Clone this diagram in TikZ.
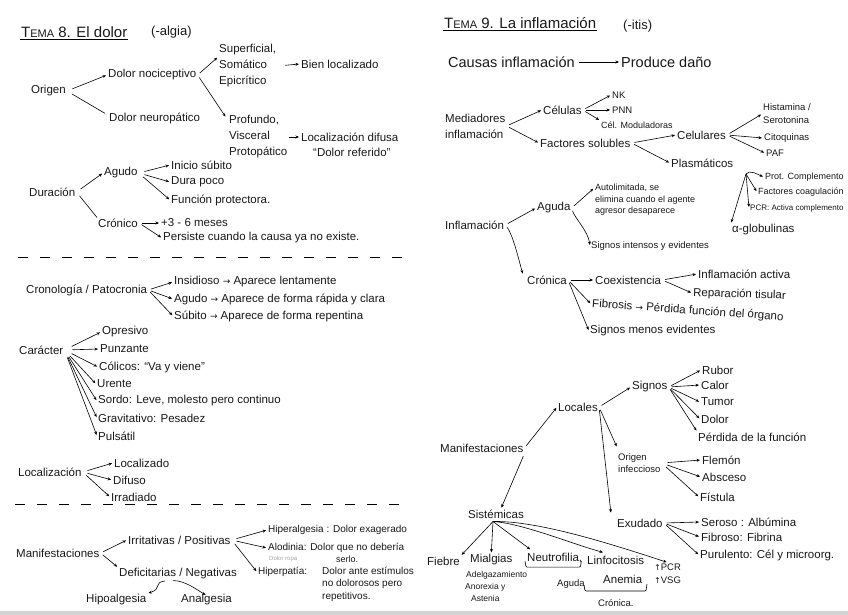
\documentclass[tikz,border=0pt]{standalone}
\usepackage{fontspec}
\setmainfont{Liberation Sans}
\newfontfamily\symf{DejaVu Sans}
\newcommand{\ra}{{\symf\small →}}
\usetikzlibrary{arrows.meta,calc}
\begin{document}
\begin{tikzpicture}[x=1pt,y=-1pt,
  txt/.style={anchor=west,inner sep=1pt,font=\fontsize{11.5}{16}\selectfont,align=left,text=black!90},
  sm/.style={txt,font=\fontsize{9.5}{12}\selectfont},
  xs/.style={txt,font=\fontsize{8}{10}\selectfont},
  big/.style={txt,font=\fontsize{15}{18}\selectfont},
  arr/.style={-{Stealth[length=3.5pt,width=3pt]},line width=0.6pt,shorten <=3pt,shorten >=1pt},
  ln/.style={line width=0.6pt,shorten <=3pt},
  divider/.style={dash pattern=on 10pt off 12pt,line width=0.8pt},
  brace/.style={line width=0.6pt,rounded corners=1pt}
]
\useasboundingbox (0,0) rectangle (848,615);
\fill[white] (0,0) rectangle (848,615);
\fill[gray!35] (0,611) rectangle (848,615);

% ================= TEMA 8 =================
\node[big] (t8) at (20,32) {T{\fontsize{11}{13}\selectfont EMA} 8. El dolor};
\draw[line width=0.7pt] ($(t8.south west)+(0,1)$) -- ($(t8.south east)+(0,1)$);
\node[txt,font=\fontsize{13}{15}\selectfont] (t8b) at (150,32) {(-algia)};

% Origen
\node[txt] (origen) at (30,91) {Origen};
\node[txt] (noci) at (107,75) {Dolor nociceptivo};
\node[txt] (neuro) at (108,118) {Dolor neuropático};
\draw[arr,shorten <=6pt] (origen.east) -- (noci.west);
\draw[ln,shorten <=6pt] (origen.east) -- ($(neuro.north west)+(-3,2)$);

\node[txt] (sup) at (218,66) {Superficial,\\Somático\\Epicrítico};
\node[txt] (prof) at (228,137) {Profundo,\\Visceral\\Protopático};
\draw[arr] (noci.east) -- ($(sup.north west)!0.3!(sup.south west)$);
\draw[arr] (noci.east) -- ($(prof.north west)+(-2,3)$);
\node[txt] (bien) at (300,64) {Bien localizado};
\draw[arr,shorten <=8pt] (sup.east) -- (bien.west);
\node[txt] (difusa) at (300,137) {Localización difusa};
\node[txt] (referido) at (312,152) {“Dolor referido”};
\draw[arr,shorten <=0pt] (prof.east) -- (difusa.west);

% Duracion
\node[txt] (dur) at (28,192) {Duración};
\node[txt] (agudo) at (103,173) {Agudo};
\node[txt] (cronico) at (97,223) {Crónico};
\draw[arr,shorten <=5pt] (dur.east) -- (agudo.west);
\draw[ln,shorten <=5pt] (dur.east) -- (cronico.north west);
\node[txt] (inicio) at (170,165) {Inicio súbito};
\node[txt] (dura) at (170,182) {Dura poco};
\node[txt] (funcion) at (170,200) {Función protectora.};
\foreach \c in {inicio,dura,funcion} \draw[arr,shorten <=6pt] (agudo.east) -- (\c.west);
\node[txt] (meses) at (160,223) {+3 - 6 meses};
\node[txt] (persiste) at (162,238) {Persiste cuando la causa ya no existe.};
\draw[arr] (cronico.east) -- (meses.west);
\draw[arr] (cronico.east) -- (persiste.west);

\draw[divider] (18,257) -- (405,257);

% Cronologia
\node[txt] (crono) at (25,290) {Cronología / Patocronia};
\node[txt] (insid) at (173,282) {Insidioso \ra{} Aparece lentamente};
\node[txt] (agudob) at (173,299) {Agudo \ra{} Aparece de forma rápida y clara};
\node[txt] (subito) at (173,316) {Súbito \ra{} Aparece de forma repentina};
\foreach \c in {insid,agudob,subito} \draw[arr] (crono.east) -- (\c.west);

% Caracter
\node[txt] (caracter) at (18,350) {Carácter};
\node[txt] (opresivo) at (101,332) {Opresivo};
\node[txt] (punzante) at (99,349) {Punzante};
\node[txt] (colicos) at (98,367) {Cólicos: “Va y viene”};
\node[txt] (urente) at (96,384) {Urente};
\node[txt] (sordo) at (97,401) {Sordo: Leve, molesto pero continuo};
\node[txt] (grav) at (97,418) {Gravitativo: Pesadez};
\node[txt] (puls) at (97,436) {Pulsátil};
\foreach \c in {opresivo,punzante,colicos,urente,sordo,grav,puls} \draw[arr,shorten <=8pt] (caracter.east) -- (\c.west);

% Localizacion
\node[txt] (local) at (17,472) {Localización};
\node[txt] (localizado) at (113,463) {Localizado};
\node[txt] (difuso) at (112,480) {Difuso};
\node[txt] (irradiado) at (110,497) {Irradiado};
\foreach \c in {localizado,difuso,irradiado} \draw[arr,shorten <=5pt] (local.east) -- (\c.west);

\draw[divider] (15,504) -- (405,504);

% Manifestaciones (dolor)
\node[txt] (manif) at (15,553) {Manifestaciones};
\node[txt] (irrit) at (127,540) {Irritativas / Positivas};
\node[txt] (defic) at (118,574) {Deficitarias / Negativas};
\draw[arr] (manif.east) -- (irrit.west);
\draw[arr] (manif.east) -- (defic.north west);
\node[txt,font=\fontsize{10}{12}\selectfont] (hiperalg) at (267,530) {Hiperalgesia : Dolor exagerado};
\node[txt,font=\fontsize{10}{12}\selectfont] (alod) at (267,548) {Alodinia: Dolor que no debería};
\node[txt,font=\fontsize{9}{10}\selectfont] (serlo) at (335,559) {serlo.};
\node[txt,text=gray!70,font=\fontsize{6}{7}\selectfont] (ropa) at (268,559) {Dolor ropa};
\node[txt,font=\fontsize{10}{12}\selectfont] (hiperp) at (257,572) {Hiperpatía:};
\node[txt,font=\fontsize{10}{12.5}\selectfont] (hiperpd) at (321,584) {Dolor ante estímulos\\no dolorosos pero\\repetitivos.};
\foreach \c in {hiperalg,alod,hiperp} \draw[arr,shorten <=5pt] (irrit.east) -- (\c.west);
\node[txt] (hipoalg) at (85,600) {Hipoalgesia};
\node[txt] (analg) at (180,600) {Analgesia};
\draw[arr] ($(defic.south)+(-10,0)$) .. controls +(-15,2) and +(15,-5) .. (hipoalg.north east);
\draw[arr] ($(defic.south)+(-8,0)$) .. controls +(15,0) and +(-10,-6) .. ($(analg.north)+(0,2)$);

% ================= TEMA 9 =================
\node[big] (t9) at (443,23) {T{\fontsize{11}{13}\selectfont EMA} 9. La inflamación};
\draw[line width=0.7pt] ($(t9.south west)+(0,1)$) -- ($(t9.south east)+(0,1)$);
\node[txt,font=\fontsize{13}{15}\selectfont] (t9b) at (622,26) {(-itis)};

\node[big,font=\fontsize{14.5}{17}\selectfont] (causas) at (447,62) {Causas inflamación};
\node[big,font=\fontsize{14.5}{17}\selectfont] (produce) at (620,62) {Produce daño};
\draw[arr] (causas.east) -- (produce.west);

% Mediadores
\node[txt] (medi) at (444,126) {Mediadores\\inflamación};
\node[txt] (celulas) at (542,110) {Células};
\node[txt] (factores) at (539,143) {Factores solubles};
\draw[arr] (medi.east) -- (celulas.west);
\draw[arr] (medi.east) -- (factores.west);
\node[sm] (nk) at (611,95) {NK};
\node[sm] (pnn) at (611,110) {PNN};
\node[sm,font=\fontsize{9}{11}\selectfont] (celmod) at (600,125) {Cél. Moduladoras};
\foreach \c in {nk,pnn} \draw[arr] (celulas.east) -- (\c.west);
\draw[arr] (celulas.east) -- (celmod.north west);
\node[txt] (celulares) at (676,135) {Celulares};
\node[txt] (plasma) at (670,163) {Plasmáticos};
\draw[arr] (factores.east) -- (celulares.west);
\draw[arr] (factores.east) -- (plasma.west);
\node[sm,font=\fontsize{9.5}{13}\selectfont] (hist) at (762,114) {Histamina /\\Serotonina};
\node[sm] (citoq) at (763,138) {Citoquinas};
\node[sm] (paf) at (765,153) {PAF};
\foreach \c in {hist,citoq,paf} \draw[arr] (celulares.east) -- (\c.west);
\coordinate (pv) at (746,174);
\node[sm,font=\fontsize{9}{11}\selectfont] (prot) at (764,177) {Prot. Complemento};
\node[sm,font=\fontsize{9}{11}\selectfont] (fcoag) at (757,192) {Factores coagulación};
\node[xs] (pcr) at (749,208) {PCR: Activa complemento};
\node[txt] (alfa) at (731,230) {α-globulinas};
\draw[arr,shorten <=0pt] (pv) .. controls +(3,-5) and +(-5,-2) .. (prot.west);
\draw[arr,shorten <=0pt] (pv) -- (fcoag.west);
\draw[arr,shorten <=0pt] (pv) -- (pcr.west);
\draw[arr,shorten <=0pt] (pv) -- (alfa.north west);

% Inflamacion
\node[txt] (infl) at (444,225) {Inflamación};
\node[txt] (aguda) at (536,208) {Aguda};
\node[txt] (cronica) at (526,280) {Crónica};
\draw[arr] (infl.east) -- (aguda.west);
\draw[arr] (infl.east) .. controls +(8,10) and +(-3,-10) .. ($(cronica.north west)+(-3,0)$);
\node[sm,font=\fontsize{9}{11.5}\selectfont] (autolim) at (594,200) {Autolimitada, se\\elimina cuando el agente\\agresor desaparece};
\node[sm] (signint) at (590,246) {Signos intensos y evidentes};
\draw[arr] (aguda.east) -- ($(autolim.north west)+(0,5)$);
\draw[arr] (aguda.east) .. controls +(3,10) and +(-2,-15) .. (signint.west);
\node[txt] (coex) at (594,280) {Coexistencia};
\node[txt,rotate=-4] (fibrosis) at (591,304) {Fibrosis \ra{} Pérdida función del órgano};
\node[txt] (signmen) at (589,331) {Signos menos evidentes};
\draw[arr] (cronica.east) -- (coex.west);
\draw[arr] (cronica.east) -- (fibrosis.west);
\draw[arr] (cronica.east) -- (signmen.west);
\node[txt] (inflact) at (697,274) {Inflamación activa};
\node[txt,rotate=-2] (repar) at (692,293) {Reparación tisular};
\draw[arr] (coex.east) -- (inflact.west);
\draw[arr] (coex.east) -- (repar.west);

% Manifestaciones (inflamacion)
\node[txt] (manifr) at (439,448) {Manifestaciones};
\node[txt] (locales) at (557,407) {Locales};
\node[txt] (sist) at (467,514) {Sistémicas};
\draw[arr] (manifr.east) -- (locales.west);
\draw[arr] (manifr.south east) -- ($(sist.north)+(5,0)$);
\node[txt] (signos) at (631,387) {Signos};
\node[sm] (origen2) at (617,463) {Origen\\infeccioso};
\node[txt] (exud) at (616,523) {Exudado};
\draw[arr] (locales.east) -- (signos.west);
\draw[arr] (locales.east) -- ($(origen2.north west)+(0,-5)$);
\draw[arr] (locales.east) -- ($(exud.north west)+(-5,-4)$);
\node[txt] (rubor) at (701,370) {Rubor};
\node[txt] (calor) at (700,385) {Calor};
\node[txt] (tumor) at (700,402) {Tumor};
\node[txt] (dolorb) at (700,419) {Dolor};
\node[txt] (perdida) at (697,437) {Pérdida de la función};
\foreach \c in {rubor,calor,tumor,dolorb} \draw[arr] (signos.east) -- (\c.west);
\draw[arr] (signos.east) -- (perdida.north west);
\node[txt] (flemon) at (701,460) {Flemón};
\node[txt] (absceso) at (701,477) {Absceso};
\node[txt] (fistula) at (699,497) {Fístula};
\foreach \c in {flemon,absceso,fistula} \draw[arr,shorten <=6pt] (origen2.east) -- (\c.west);
\node[txt] (seroso) at (700,522) {Seroso : Albúmina};
\node[txt] (fibroso) at (700,537) {Fibroso: Fibrina};
\node[txt] (purul) at (699,555) {Purulento: Cél y microorg.};
\foreach \c in {seroso,fibroso,purul} \draw[arr] (exud.east) -- (\c.west);

% Sistemicas
\node[txt] (fiebre) at (426,561) {Fiebre};
\node[txt] (mialgias) at (469,560) {Mialgias};
\node[txt] (neutro) at (526,558) {Neutrofilia,};
\node[txt] (linfo) at (586,560) {Linfocitosis};
\node[sm] (pcrb) at (653,567) {{\symf\footnotesize ↑}PCR};
\node[sm] (vsg) at (653,580) {{\symf\footnotesize ↑}VSG};
\node[xs,font=\fontsize{8.5}{10}\selectfont] (adelg) at (465,575) {Adelgazamiento};
\node[xs,font=\fontsize{8.5}{10}\selectfont] (anorexia) at (464,587) {Anorexia y};
\node[xs,font=\fontsize{8.5}{10}\selectfont] (astenia) at (470,598) {Astenia};
\node[sm] (agudab) at (556,584) {Aguda};
\node[txt] (anemia) at (602,579) {Anemia};
\node[sm] (cronicab) at (597,603) {Crónica.};
\coordinate (sv) at ($(sist.south)+(-3,2)$);
\draw[arr,shorten <=0pt] (sv) -- (fiebre.north east);
\draw[arr,shorten <=0pt] (sv) -- (mialgias.north);
\draw[arr,shorten <=0pt] (sv) -- ($(neutro.north west)+(5,-2)$);
\draw[arr,shorten <=0pt] (sv) .. controls +(30,2) and +(-30,-8) .. ($(linfo.north west)+(18,-2)$);
\draw[arr,shorten <=0pt] (sv) .. controls +(45,-1) and +(-55,-18) .. (pcrb.north);
\draw[brace] ($(neutro.south west)+(-1,-3)$) -- ($(neutro.south west)+(0,3)$) -- ($(neutro.south east)+(-3,3)$) -- ($(neutro.south east)+(-2,-3)$);
\draw[brace] (584,585) -- (585,591) -- (646,591) -- (647,584);
\end{tikzpicture}
\end{document}
